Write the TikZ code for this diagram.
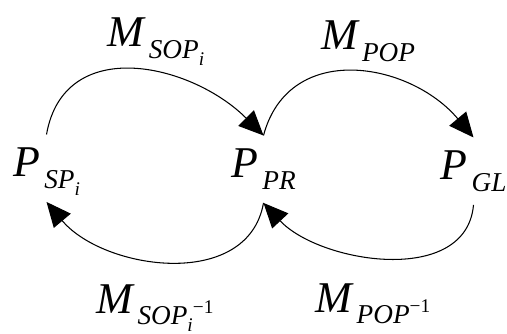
\documentclass[tikz,border=0pt]{standalone}
\usepackage{fontspec}
\setmainfont{Liberation Serif}
\usetikzlibrary{arrows.meta}
\newcommand\subA[1]{\kern2.5pt\raisebox{-6.8pt}{\fontsize{15.5}{18}\selectfont\itshape #1}}
\newcommand\subB[1]{\raisebox{-3.5pt}{\fontsize{11}{13}\selectfont\itshape #1}}
\newcommand\supB[1]{\raisebox{6.5pt}{\fontsize{11}{13}\selectfont\upshape #1}}

\begin{document}
\begin{tikzpicture}[x=0.02cm,y=0.02cm,
      lbl/.style={font=\fontsize{25}{30}\selectfont\itshape,inner sep=7pt,anchor=base},
      state/.style={lbl,text height=17pt,text depth=7pt},
      arr/.style={-{Triangle[length=14pt,width=12.5pt]},line width=0.6pt}]
    \useasboundingbox (0,0) rectangle (507,-334);
    %% ── States ───────────────────────────────────────────────
    \node[state] (sp) at (46.5,-177)  {P\subA{SP\subB{i}}};
    \node[state] (pr) at (263.5,-178) {P\subA{PR}};
    \node[state] (gl) at (473.5,-180) {P\subA{GL}};
    %% ── Mapping labels ───────────────────────────────────────
    \node[lbl] (msop)    at (156,-47)  {M\subA{SOP\subB{i}}};
    \node[lbl] (mpop)    at (368,-50)  {M\subA{POP}};
    \node[lbl] (msopinv) at (155,-313) {M\subA{SOP\subB{i}\supB{−1}}};
    \node[lbl] (mpopinv) at (373,-312) {M\subA{POP\supB{−1}}};
    %% ── Upper arcs ───────────────────────────────────────────
    \draw[arr] (sp.north) to[out=80,in=135,looseness=1.2] (pr.north);
    \draw[arr] (pr.north) to[out=75,in=130,looseness=1.2] (gl.north);
    %% ── Lower arcs ───────────────────────────────────────────
    \draw[arr] (gl.south) to[out=-95,in=-47,looseness=1.0] (pr.south);
    \draw[arr] (pr.south) to[out=-100,in=-50,looseness=1.05] (sp.south);
  \end{tikzpicture}
\end{document}
